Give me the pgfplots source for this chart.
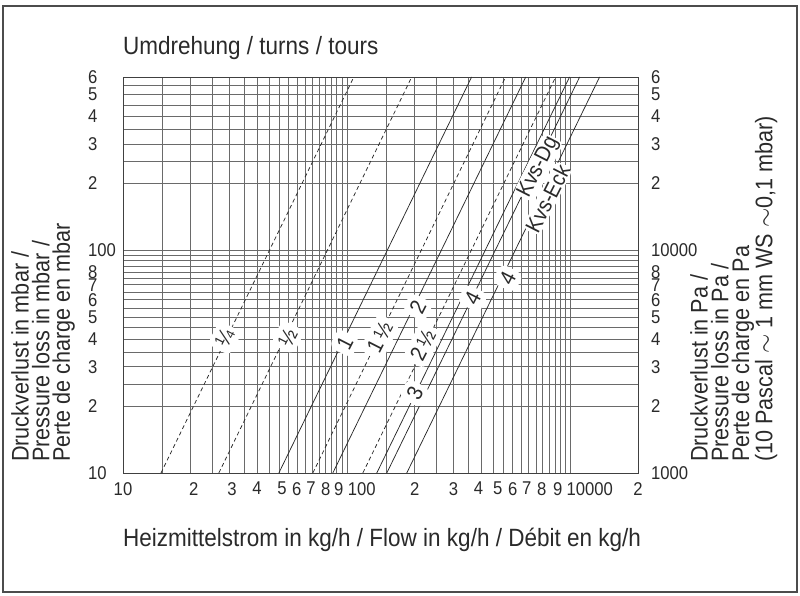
\documentclass[border=0pt]{standalone}
\usepackage{pgfplots}
\pgfplotsset{compat=1.18}
\usepackage{fontspec}
\setmainfont{Liberation Sans}[FakeStretch=0.9]
\definecolor{ink}{HTML}{2A2A2A}
\definecolor{gridc}{HTML}{6A6A6A}
\begin{document}
\begin{tikzpicture}[x=1pt,y=1pt]
\useasboundingbox (0,0) rectangle (800,595);
\draw[line width=1.2pt, black!70] (3,3) rectangle (797,589);
% titles
\node[anchor=west, inner sep=0pt, text=ink, font=\fontsize{25}{25}\selectfont] at (123,547) {Umdrehung / turns / tours};
\node[anchor=west, inner sep=0pt, text=ink, font=\fontsize{25}{25}\selectfont] at (123,55) {Heizmittelstrom in kg/h / Flow in kg/h / Débit en kg/h};
\node[rotate=90, anchor=north west, align=left, inner sep=0pt, text=ink, font=\fontsize{24}{20.7}\selectfont] at (11,133) {Druckverlust in mbar /\\Pressure loss in mbar /\\Perte de charge en mbar};
\node[rotate=90, anchor=north west, align=left, inner sep=0pt, text=ink, font=\fontsize{24}{20.7}\selectfont] at (690,133) {Druckverlust in Pa /\\Pressure loss in Pa /\\Perte de charge en Pa\\(10 Pascal $\sim$ 1 mm WS $\sim$0,1 mbar)};
\begin{axis}[
  at={(123pt,122pt)}, anchor=south west,
  width=515pt, height=396pt, scale only axis,
  xmode=log, ymode=log,
  xmin=10, xmax=2000, ymin=10, ymax=600,
  axis line style={black!75, line width=0.9pt},
  xtick={10,20.7,30.7,39.7,51.3,59.8,69.1,80.6,92.1,116.7,201,300,388,472,551,636,743,875,1216,2000},
  xticklabels={10,2,3,4,5,6,7,8,9,100,2,3,4,5,6,7,8,9,10000,2},
  ytick={10,20,30,40,50,60,70,80,100,200,300,400,500,600},
  yticklabels={10,2,3,4,5,6,7,8,100,2,3,4,5,6},
  minor xtick={15,20,25,30,35,40,45,50,55,60,65,70,75,80,85,90,95,100,150,200,250,300,350,400,450,500,550,600,650,700,750,800,850,900,950,1000},
  minor ytick={20,25,30,35,40,45,50,55,60,65,70,75,80,85,90,95,100,200,250,300,350,400,450,500,550},
  xmajorgrids=false, ymajorgrids=false, xminorgrids=true, yminorgrids=true,
  minor grid style={gridc, line width=0.6pt},
  major tick length=0pt, minor tick length=0pt,
  tick label style={font=\fontsize{18.5}{18.5}\selectfont, text=ink},
  /pgf/number format/assume math mode=true,
  yticklabel style={anchor=west, xshift=-35pt, inner sep=0pt},
  xticklabel style={anchor=north, yshift=-9pt, inner sep=0pt},
  clip=true,
]
\addplot[ink, line width=0.75pt, dash pattern=on 4pt off 3pt] coordinates {(14.78,10) (107.5,600)};
\addplot[ink, line width=0.75pt, dash pattern=on 4pt off 3pt] coordinates {(26.8,10) (195,600)};
\addplot[ink, line width=0.75pt] coordinates {(49.7,10) (361,600)};
\addplot[ink, line width=0.75pt, dash pattern=on 4pt off 3pt] coordinates {(70.5,10) (512,600)};
\addplot[ink, line width=0.75pt] coordinates {(86.6,10) (630,600)};
\addplot[ink, line width=0.75pt, dash pattern=on 4pt off 3pt] coordinates {(117.9,10) (857,600)};
\addplot[ink, line width=0.75pt] coordinates {(136.1,10) (989,600)};
\addplot[ink, line width=0.75pt] coordinates {(150.9,10) (1097,600)};
\addplot[ink, line width=0.75pt] coordinates {(185.3,10) (1347,600)};
\tikzset{lab/.style={fill=white, rotate=63, inner sep=5pt, rounded corners=7pt, text=ink, font=\fontsize{22}{22}\selectfont}}
\node[lab] at (axis cs:28.5,40.3) {¼};
\node[lab] at (axis cs:54.5,40.7) {½};
\node[lab] at (axis cs:98,38.3) {1};
\node[lab] at (axis cs:140.4,40.7) {1\,½};
\node[lab] at (axis cs:207.5,55.5) {2};
\node[lab] at (axis cs:218.4,37.5) {2\,½};
\node[lab] at (axis cs:201.2,22.8) {3};
\node[lab] at (axis cs:365,60.9) {4};
\node[lab] at (axis cs:523,74.9) {4};
\node[lab, inner sep=1.5pt] at (axis cs:719,235.6) {Kvs-Dg};
\node[lab, inner sep=1.5pt] at (axis cs:789,171) {Kvs-Eck};
\end{axis}
\begin{axis}[
  at={(123pt,122pt)}, anchor=south west,
  width=515pt, height=396pt, scale only axis,
  ymode=log, ymin=1000, ymax=60000, xmin=0, xmax=1,
  hide x axis, axis y line*=right,
  y axis line style={draw=none},
  ytick={1000,2000,3000,4000,5000,6000,7000,8000,10000,20000,30000,40000,50000,60000},
  yticklabels={1000,2,3,4,5,6,7,8,10000,2,3,4,5,6},
  major tick length=0pt, minor tick length=0pt, minor ytick={},
  tick label style={font=\fontsize{18.5}{18.5}\selectfont, text=ink},
  /pgf/number format/assume math mode=true,
  yticklabel style={anchor=west, xshift=13pt, inner sep=0pt},
]
\addplot[draw=none] coordinates {(0,1000)};
\end{axis}
\end{tikzpicture}
\end{document}
